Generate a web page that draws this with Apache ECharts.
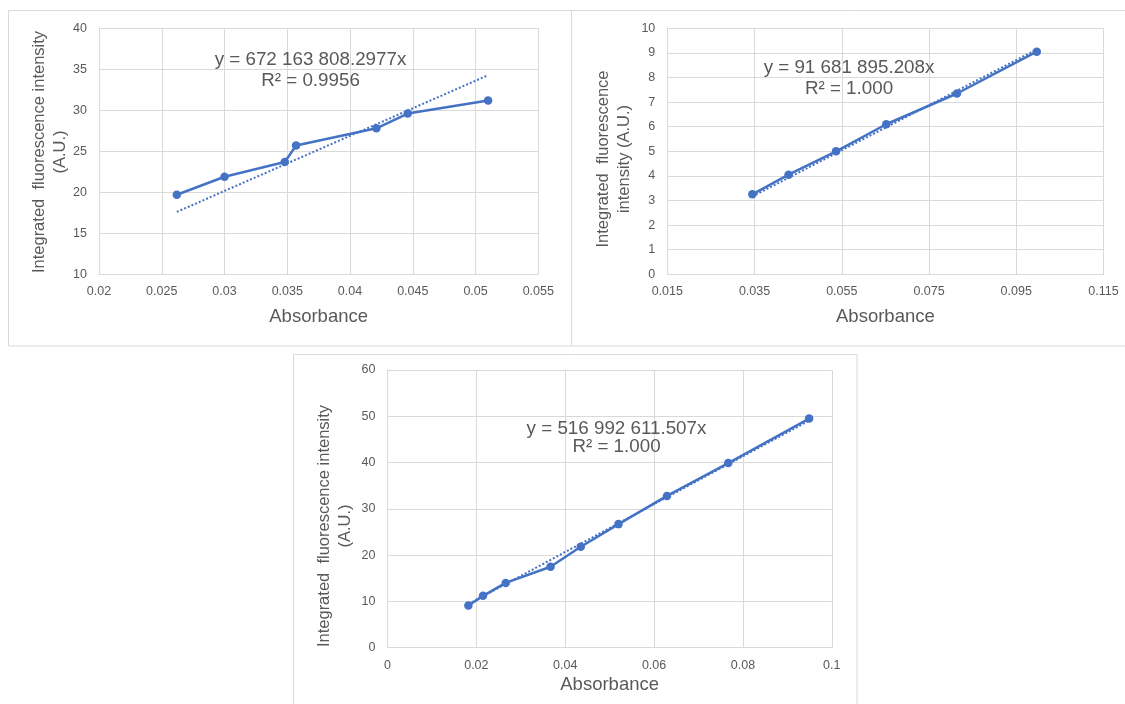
<!DOCTYPE html>
<html>
<head>
<meta charset="utf-8">
<script src="https://cdn.jsdelivr.net/npm/echarts@6/dist/echarts.min.js"></script>
<style>
  html, body { margin: 0; padding: 0; background: #ffffff; }
  #chart { width: 1125px; height: 704px; }
</style>
</head>
<body>
<div id="chart"></div>
<script>
// ---- Data ----
const absorbance1 = [0.0262, 0.0300, 0.0348, 0.0357, 0.0421, 0.0446, 0.0510];
const intensity1  = [19.7, 21.9, 23.7, 25.7, 27.8, 29.6, 31.2];
const absorbance2 = [0.0345, 0.0428, 0.0537, 0.0652, 0.0814, 0.0997];
const intensity2  = [3.25, 4.05, 5.0, 6.1, 7.35, 9.05];
const absorbance3 = [0.0182, 0.0215, 0.0266, 0.0367, 0.0435, 0.0520, 0.0629, 0.0767, 0.0949];
const intensity3  = [9.1, 11.2, 14.0, 17.5, 21.8, 26.7, 32.8, 39.9, 49.5];
const trendSlopes = [672.16, 91.68, 516.99];
const equations   = ['y = 672 163 808.2977x', 'y = 91 681 895.208x', 'y = 516 992 611.507x'];
const rSquared    = ['R² = 0.9956', 'R² = 1.000', 'R² = 1.000'];
const xTitle = 'Absorbance';
const yTitles = [
  'Integrated  fluorescence intensity\n(A.U.)',
  'Integrated  fluorescence\nintensity (A.U.)',
  'Integrated  fluorescence intensity\n(A.U.)'
];
// axis extents (tick labels)
const xMin = [0.02, 0.015, 0];
const xMax = [0.055, 0.115, 0.1];
const xStep = [0.005, 0.02, 0.02];
const yMin = [10, 0, 0];
const yMax = [40, 10, 60];
const yStep = [5, 1, 10];

// ---- Styling ----
const FONT = '"Liberation Sans", Arial, sans-serif';
const GRAY = '#595959';
const GRID = '#d9d9d9';
const BLUE = '#4472C4';

// chart 2 axis starts at 0.015 with step 0.02: use an offset axis so ticks align
const xOffset = [0, 0.015, 0];

const grids = [
  { left: 99, top: 28.3, width: 439.3, height: 246 },
  { left: 667.3, top: 28.3, width: 436.2, height: 246 },
  { left: 387.5, top: 370, width: 444.3, height: 277.7 }
];
const nameGaps = [33, 33, 28];

function fmtNum(v) {
  return String(+v.toFixed(4));
}

const xAxes = grids.map((g, i) => ({
  type: 'value',
  gridIndex: i,
  min: xMin[i] - xOffset[i],
  max: xMax[i] - xOffset[i],
  interval: xStep[i],
  name: xTitle,
  nameLocation: 'middle',
  nameGap: nameGaps[i],
  nameTextStyle: { color: GRAY, fontSize: 18.5, fontFamily: FONT },
  axisLine: { show: true, lineStyle: { color: GRID, width: 1 } },
  axisTick: { show: false },
  axisLabel: {
    color: GRAY, fontSize: 12.5, fontFamily: FONT, margin: 11,
    formatter: v => fmtNum(v + xOffset[i]),
    showMinLabel: true, showMaxLabel: true
  },
  splitLine: { show: true, lineStyle: { color: GRID, width: 1 } }
}));

const yAxes = grids.map((g, i) => ({
  type: 'value',
  gridIndex: i,
  min: yMin[i],
  max: yMax[i],
  interval: yStep[i],
  axisLine: { show: true, lineStyle: { color: GRID, width: 1 } },
  axisTick: { show: false },
  axisLabel: { color: GRAY, fontSize: 12.5, fontFamily: FONT, margin: 12 },
  splitLine: { show: true, lineStyle: { color: GRID, width: 1 } }
}));

const sets = [
  [absorbance1, intensity1],
  [absorbance2, intensity2],
  [absorbance3, intensity3]
];

const series = [];
sets.forEach(([xs, ys], i) => {
  const x0 = xs[0], x1 = xs[xs.length - 1];
  series.push({
    type: 'line',
    xAxisIndex: i, yAxisIndex: i,
    data: [[x0 - xOffset[i], trendSlopes[i] * x0], [x1 - xOffset[i], trendSlopes[i] * x1]],
    symbol: 'none',
    lineStyle: { color: BLUE, width: 2, type: [2, 2] },
    z: 2, silent: true, animation: false
  });
  series.push({
    type: 'line',
    xAxisIndex: i, yAxisIndex: i,
    data: xs.map((x, k) => [x - xOffset[i], ys[k]]),
    symbol: 'circle',
    symbolSize: 8.5,
    itemStyle: { color: BLUE, borderWidth: 0 },
    lineStyle: { color: BLUE, width: 2.5 },
    z: 3, animation: false
  });
});

const frames = [
  { x: 8.5, y: 10.5, width: 563, height: 335.5 },
  { x: 571.5, y: 10.5, width: 560, height: 335.5 },
  { x: 293.5, y: 354.5, width: 563.5, height: 360 }
];

const eqPos = [
  { x: 310.5, y1: 60, y2: 81 },
  { x: 849, y1: 68, y2: 88.5 },
  { x: 616.5, y1: 428.5, y2: 447 }
];
const yTitlePos = [
  { x: 49.5, y: 152 },
  { x: 614, y: 159 },
  { x: 334.5, y: 526 }
];

const graphics = [];
frames.forEach(f => graphics.push({
  type: 'rect', shape: f, silent: true, z: -10,
  style: { fill: '#ffffff', stroke: GRID, lineWidth: 1 }
}));
eqPos.forEach((p, i) => {
  graphics.push({
    type: 'text', x: p.x, y: p.y1, z: 10,
    style: { text: equations[i], fill: GRAY, font: '18.8px ' + FONT, textAlign: 'center', textVerticalAlign: 'middle' }
  });
  graphics.push({
    type: 'text', x: p.x, y: p.y2, z: 10,
    style: { text: rSquared[i], fill: GRAY, font: '18.8px ' + FONT, textAlign: 'center', textVerticalAlign: 'middle' }
  });
});
yTitlePos.forEach((p, i) => graphics.push({
  type: 'text', x: p.x, y: p.y, rotation: Math.PI / 2, z: 10,
  style: {
    text: yTitles[i], fill: GRAY, font: '16.5px ' + FONT,
    textAlign: 'center', textVerticalAlign: 'middle', lineHeight: 21
  }
}));

const chart = echarts.init(document.getElementById('chart'), null, { renderer: 'canvas' });
chart.setOption({
  backgroundColor: '#ffffff',
  animation: false,
  grid: grids,
  xAxis: xAxes,
  yAxis: yAxes,
  series: series,
  graphic: graphics
});
</script>
</body>
</html>
